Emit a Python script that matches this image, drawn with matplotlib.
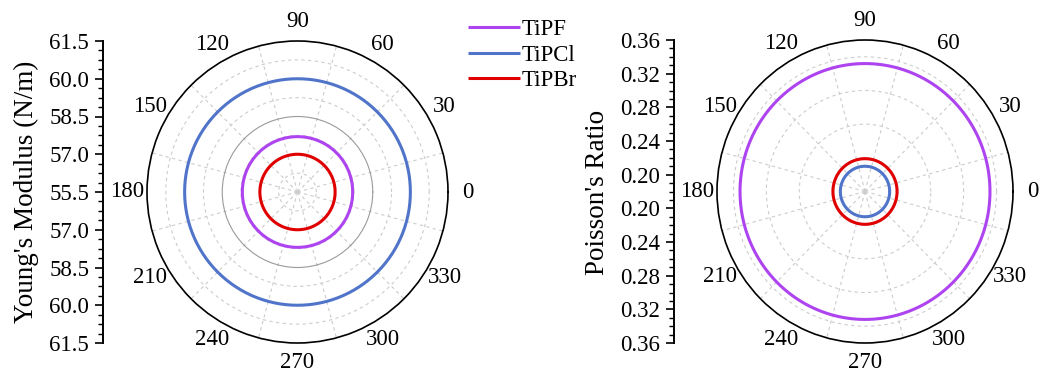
import numpy as np
import matplotlib
matplotlib.use("Agg")
import matplotlib.pyplot as plt
from matplotlib.ticker import FuncFormatter, FixedLocator, MultipleLocator

plt.rcParams["font.family"] = ["Liberation Serif", "DejaVu Serif"]

# --- data ---
materials = ["TiPF", "TiPCl", "TiPBr"]
colors = ["#AE44F0", "#4F74C9", "#E00000"]
young_modulus = [57.7, 60.0, 57.0]      # N/m, isotropic rings
poisson_ratio = [0.332, 0.210, 0.219]   # isotropic rings

label_angles = list(range(0, 360, 30))
spoke_angles = list(range(15, 360, 30))

W, H = 1042, 376
FS = 16.5
fig = plt.figure(figsize=(W / 100, H / 100), dpi=100)


def px(x0, y0, x1, y1):
    """pixel box (top-left origin) -> figure rect"""
    return [x0 / W, 1 - y1 / H, (x1 - x0) / W, (y1 - y0) / H]


theta = np.deg2rad(np.linspace(0, 360, 361))
grid_kw = dict(color="#CCCCCC", lw=0.8, ls=(0, (3, 3)))


def setup_polar(ax, rmin, rmax, solid_r, dashed_r):
    ax.set_aspect("auto")
    ax.set_rlim(rmin, rmax)
    ax.set_xticks(np.deg2rad(label_angles))
    ax.set_xticklabels([str(a) for a in label_angles], fontsize=FS)
    ax.set_xticks(np.deg2rad(spoke_angles), minor=True)
    ax.xaxis.grid(False, which="major")
    ax.xaxis.grid(True, which="minor", **grid_kw)
    ax.set_yticks(solid_r)
    ax.set_yticks(dashed_r, minor=True)
    ax.set_yticklabels([])
    ax.yaxis.grid(True, which="major", color="#9A9A9A", lw=0.8, ls="-")
    ax.yaxis.grid(True, which="minor", **grid_kw)
    ax.tick_params(axis="both", which="both", length=0)
    ax.tick_params(axis="x", pad=7)
    ax.spines["polar"].set_linewidth(1.2)
    ax.spines["polar"].set_color("black")


def side_axis(rect, span, major, minor, fmt):
    sa = fig.add_axes(rect)
    sa.set_ylim(-span, span)
    for s in ("top", "right", "bottom"):
        sa.spines[s].set_visible(False)
    sa.spines["left"].set_linewidth(1.4)
    sa.set_xticks([])
    sa.yaxis.set_major_locator(FixedLocator(major))
    sa.yaxis.set_minor_locator(MultipleLocator(minor))
    sa.yaxis.set_major_formatter(FuncFormatter(fmt))
    sa.tick_params(axis="y", which="major", length=6, width=1.2, labelsize=FS, pad=4)
    sa.tick_params(axis="y", which="minor", length=3.5, width=1.0)
    return sa


# --- Young's modulus ---
ax1 = fig.add_axes(px(147, 41, 448, 343), projection="polar")
y0, y1 = 55.5, 61.5
setup_polar(ax1, y0, y1, [58.5], [56.25, 57.0, 57.75, 59.25, 60.0, 60.75])
lines = []
for name, c, v in zip(materials, colors, young_modulus):
    (ln,) = ax1.plot(theta, np.full_like(theta, v), color=c, lw=2.2,
                     solid_capstyle="butt", label=name)
    lines.append(ln)

side_axis(px(103, 41, 104, 343), y1 - y0, np.arange(-6, 6.01, 1.5), 0.375,
          lambda v, p: f"{y0 + abs(v):.1f}")
fig.text(26 / W, 1 - 192 / H, "Young's Modulus (N/m)", rotation=90,
         ha="center", va="center", fontsize=19.5)

# --- Poisson's ratio ---
ax2 = fig.add_axes(px(717, 40, 1013, 343), projection="polar")
p0, p1 = 0.18, 0.36
setup_polar(ax2, p0, p1, [], [0.22, 0.26, 0.30, 0.34])
for name, c, v in zip(materials, colors, poisson_ratio):
    ax2.plot(theta, np.full_like(theta, v), color=c, lw=2.2, solid_capstyle="butt")

side_axis(px(674, 40, 675, 343), p1 - p0, np.arange(-0.18, 0.181, 0.04), 0.01,
          lambda v, p: f"{p0 + abs(v):.2f}")
fig.text(597 / W, 1 - 192 / H, "Poisson's Ratio", rotation=90,
         ha="center", va="center", fontsize=19.5)

fig.legend(handles=lines, loc="upper left", bbox_to_anchor=(468 / W, 1 - 19 / H),
           frameon=False, fontsize=FS, handlelength=2.25, handletextpad=0.1,
           labelspacing=0.2, borderpad=0, borderaxespad=0)

fig.savefig("out.png", dpi=100)
